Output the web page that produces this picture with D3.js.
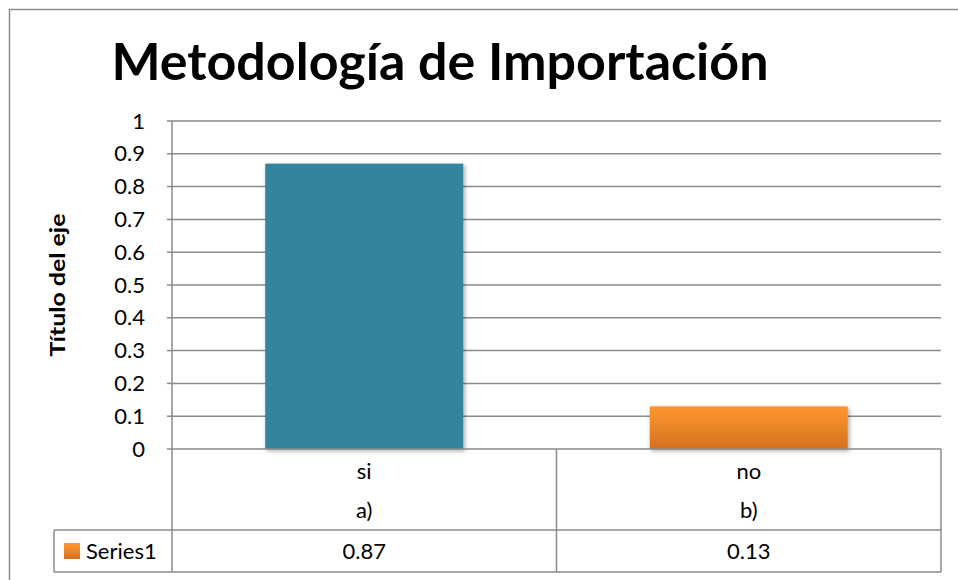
<!DOCTYPE html>
<html lang="es">
<head>
<meta charset="utf-8">
<style>
  body { margin: 0; background: #fff; }
  svg { display: block; font-family: Lato, "Open Sans", sans-serif; }
</style>
</head>
<body>
<svg width="958" height="580"></svg>
<script src="https://d3js.org/d3.v7.min.js"></script>
<script>
// data
var categories = ["si", "no"];
var subLabels = ["a)", "b)"];
var values = [0.87, 0.13];
var seriesName = "Series1";
var chartTitle = "Metodología de Importación";
var axisTitle = "Título del eje";

var svg = d3.select("svg");
var grid = "#8a8a8a";

var plotLeft = 172, plotRight = 941, plotTop = 121, plotBottom = 449;

var x = d3.scaleBand().domain(categories).range([plotLeft, plotRight]).padding(0);
var y = d3.scaleLinear().domain([0, 1]).range([plotBottom, plotTop]);

var defs = svg.append("defs");
var shadow = defs.append("filter").attr("id", "shadow")
    .attr("x", "-10%").attr("y", "-10%").attr("width", "130%").attr("height", "130%");
shadow.append("feDropShadow")
    .attr("dx", 1.5).attr("dy", 2).attr("stdDeviation", 2)
    .attr("flood-color", "#000").attr("flood-opacity", 0.35);

var grad = defs.append("linearGradient").attr("id", "orange")
    .attr("x1", 0).attr("y1", 0).attr("x2", 0).attr("y2", 1);
grad.append("stop").attr("offset", "0%").attr("stop-color", "#fb952b");
grad.append("stop").attr("offset", "35%").attr("stop-color", "#f18c2a");
grad.append("stop").attr("offset", "100%").attr("stop-color", "#d56f1f");

// outer chart border (continues past the picture edge)
svg.append("rect")
    .attr("x", 9.5).attr("y", 9.5).attr("width", 1000).attr("height", 1000)
    .attr("fill", "#fff").attr("stroke", grid).attr("stroke-width", 1.5);

// title
svg.append("text")
    .attr("x", 440).attr("y", 80)
    .attr("text-anchor", "middle")
    .attr("font-size", 52).attr("font-weight", "bold")
    .attr("fill", "#000")
    .text(chartTitle);

// y axis labels
var yAxis = d3.axisLeft(y).ticks(10).tickSize(0).tickPadding(27)
    .tickFormat(function (d) { return d3.format("~g")(d); });
var gy = svg.append("g").attr("transform", "translate(" + plotLeft + ",0)").call(yAxis);
gy.select(".domain").remove();
gy.selectAll("text").attr("font-size", 22).attr("fill", "#000")
    .attr("font-family", "Lato, 'Open Sans', sans-serif");

// gridlines
svg.append("g").selectAll("line")
    .data(y.ticks(10).filter(function (d) { return d > 0; }))
    .join("line")
    .attr("x1", plotLeft).attr("x2", plotRight)
    .attr("y1", function (d) { return y(d); })
    .attr("y2", function (d) { return y(d); })
    .attr("stroke", grid).attr("stroke-width", 1.5);

// y axis line and tick marks
svg.append("line")
    .attr("x1", plotLeft).attr("x2", plotLeft).attr("y1", plotTop).attr("y2", plotBottom)
    .attr("stroke", grid).attr("stroke-width", 1.5);
svg.append("g").selectAll("line")
    .data(y.ticks(10))
    .join("line")
    .attr("x1", plotLeft - 5).attr("x2", plotLeft)
    .attr("y1", function (d) { return y(d); })
    .attr("y2", function (d) { return y(d); })
    .attr("stroke", grid).attr("stroke-width", 1.5);

// axis title
svg.append("text")
    .attr("transform", "translate(65," + ((plotTop + plotBottom) / 2) + ") rotate(-90)")
    .attr("text-anchor", "middle")
    .attr("font-size", 20).attr("font-weight", "bold")
    .attr("textLength", 143).attr("lengthAdjust", "spacingAndGlyphs")
    .text(axisTitle);

// bars
var barFrac = 0.515;
svg.append("g").selectAll("rect")
    .data(values)
    .join("rect")
    .attr("x", function (d, i) { return x(categories[i]) + x.bandwidth() * (1 - barFrac) / 2; })
    .attr("width", x.bandwidth() * barFrac)
    .attr("y", function (d) { return y(d); })
    .attr("height", function (d) { return y(0) - y(d); })
    .attr("fill", function (d, i) { return i === 0 ? "#31859c" : "url(#orange)"; })
    .attr("filter", "url(#shadow)");

// x axis line
svg.append("line")
    .attr("x1", plotLeft).attr("x2", plotRight).attr("y1", plotBottom).attr("y2", plotBottom)
    .attr("stroke", grid).attr("stroke-width", 1.5);

// data table
var row1 = 530, row2 = 572, legLeft = 54;
var tbl = svg.append("g").attr("stroke", grid).attr("stroke-width", 1.5);
tbl.append("line").attr("x1", legLeft).attr("x2", plotRight).attr("y1", row1).attr("y2", row1);
tbl.append("line").attr("x1", legLeft).attr("x2", plotRight).attr("y1", row2).attr("y2", row2);
tbl.append("line").attr("x1", legLeft).attr("x2", legLeft).attr("y1", row1).attr("y2", row2);
tbl.selectAll(".vl")
    .data(categories.concat(["end"]))
    .join("line")
    .attr("class", "vl")
    .attr("x1", function (d, i) { return i < categories.length ? x(d) : plotRight; })
    .attr("x2", function (d, i) { return i < categories.length ? x(d) : plotRight; })
    .attr("y1", plotBottom).attr("y2", row2);

var cellText = svg.append("g").attr("font-size", 22).attr("text-anchor", "middle").attr("fill", "#000");
cellText.selectAll(".cat")
    .data(categories)
    .join("text")
    .attr("x", function (d) { return x(d) + x.bandwidth() / 2; })
    .attr("y", 479)
    .text(function (d) { return d; });
cellText.selectAll(".sub")
    .data(subLabels)
    .join("text")
    .attr("x", function (d, i) { return x(categories[i]) + x.bandwidth() / 2; })
    .attr("y", 518)
    .text(function (d) { return d; });
cellText.selectAll(".val")
    .data(values)
    .join("text")
    .attr("x", function (d, i) { return x(categories[i]) + x.bandwidth() / 2; })
    .attr("y", 559)
    .text(function (d) { return d3.format(".2f")(d); });

// legend key in table
svg.append("rect")
    .attr("x", 64).attr("y", 543).attr("width", 16).attr("height", 16)
    .attr("fill", "url(#orange)");
svg.append("text")
    .attr("x", 86).attr("y", 559)
    .attr("font-size", 22)
    .text(seriesName);
</script>
</body>
</html>
